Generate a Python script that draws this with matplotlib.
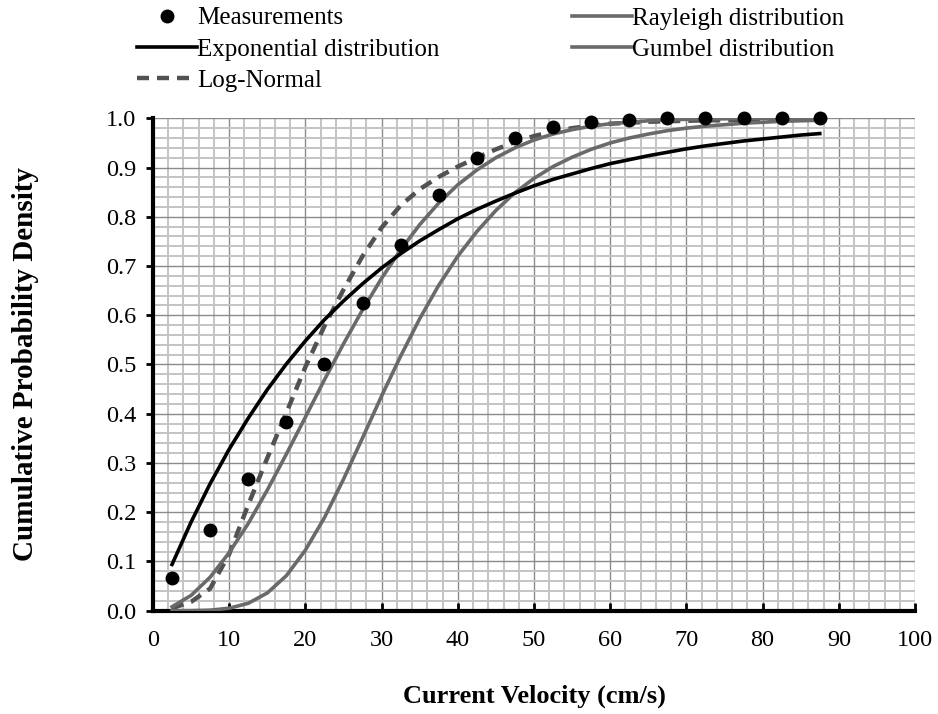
import matplotlib
matplotlib.use("Agg")
import matplotlib.pyplot as plt
from matplotlib.ticker import MultipleLocator

plt.rcParams['font.family'] = ['Liberation Serif', 'DejaVu Serif']

# Measured points
meas_x = [2.5, 7.5, 12.5, 17.5, 22.5, 27.5, 32.5, 37.5, 42.5, 47.5, 52.5,
          57.5, 62.5, 67.5, 72.5, 77.5, 82.5, 87.5]
meas_y = [0.067, 0.163, 0.267, 0.383, 0.502, 0.625, 0.742, 0.845, 0.920,
          0.960, 0.983, 0.993, 0.997, 1.000, 1.000, 1.000, 1.000, 1.000]

# Curves sampled every 2.5 cm/s
curve_x = [2.5, 5, 7.5, 10, 12.5, 15, 17.5, 20, 22.5, 25, 27.5, 30, 32.5, 35,
           37.5, 40, 42.5, 45, 47.5, 50, 52.5, 55, 57.5, 60, 62.5, 65, 67.5,
           70, 72.5, 75, 77.5, 80, 82.5, 85, 87.5]
expo_y = [0.094, 0.180, 0.258, 0.328, 0.391, 0.449, 0.501, 0.548, 0.591, 0.629,
          0.664, 0.696, 0.725, 0.751, 0.774, 0.796, 0.815, 0.832, 0.848, 0.863,
          0.876, 0.887, 0.898, 0.908, 0.916, 0.924, 0.931, 0.938, 0.944, 0.949,
          0.954, 0.958, 0.962, 0.966, 0.969]
rayl_y = [0.008, 0.031, 0.068, 0.118, 0.177, 0.245, 0.318, 0.393, 0.469, 0.542,
          0.611, 0.675, 0.733, 0.784, 0.828, 0.865, 0.895, 0.920, 0.940, 0.956,
          0.968, 0.977, 0.984, 0.989, 0.992, 0.995, 0.997, 0.998, 0.999, 0.999,
          1.000, 1.000, 1.000, 1.000, 1.000]
gumb_y = [0.000, 0.000, 0.001, 0.005, 0.015, 0.036, 0.071, 0.123, 0.189, 0.267,
          0.351, 0.436, 0.517, 0.593, 0.661, 0.720, 0.770, 0.813, 0.849, 0.878,
          0.902, 0.921, 0.937, 0.950, 0.960, 0.968, 0.975, 0.980, 0.984, 0.987,
          0.990, 0.992, 0.994, 0.995, 0.996]
logn_y = [0.005, 0.018, 0.045, 0.115, 0.215, 0.310, 0.402, 0.495, 0.578, 0.652,
          0.720, 0.778, 0.823, 0.856, 0.881, 0.902, 0.920, 0.937, 0.952, 0.964,
          0.973, 0.980, 0.985, 0.989, 0.991, 0.993, 0.994, 0.995, 0.996, 0.996,
          0.997, 0.997, 0.997, 0.997, 0.997]

x_ticks = [0, 10, 20, 30, 40, 50, 60, 70, 80, 90, 100]
y_ticks = [0.0, 0.1, 0.2, 0.3, 0.4, 0.5, 0.6, 0.7, 0.8, 0.9, 1.0]

fig = plt.figure(figsize=(9.38, 7.14), dpi=100)
ax = fig.add_axes([0.1631, 0.1447, 0.8124, 0.6896])

ax.set_xlim(0, 100)
ax.set_ylim(0, 1.0)
ax.set_xticks(x_ticks)
ax.set_xticklabels([str(v) for v in x_ticks])
ax.set_yticks(y_ticks)
ax.set_yticklabels([f'{v:.1f}' for v in y_ticks])
ax.xaxis.set_minor_locator(MultipleLocator(2))
ax.yaxis.set_minor_locator(MultipleLocator(0.02))
ax.grid(which='minor', color='#c4c4c4', linewidth=1.4, zorder=0)
ax.grid(which='major', color='#8a8a8a', linewidth=1.0, zorder=0)
ax.set_axisbelow(True)

ax.plot(meas_x, meas_y, 'o', color='black', markersize=9, zorder=5,
        label='Measurements', clip_on=False)
ax.plot(curve_x, expo_y, '-', color='black', linewidth=2.6, zorder=4,
        label='Exponential distribution')
ax.plot(curve_x, logn_y, '--', color='#525252', linewidth=3.2, zorder=3,
        dashes=(2.7, 1.8), label='Log-Normal')
ax.plot(curve_x, rayl_y, '-', color='#6a6a6a', linewidth=2.6, zorder=3,
        label='Rayleigh distribution')
ax.plot(curve_x, gumb_y, '-', color='#6a6a6a', linewidth=2.6, zorder=3,
        label='Gumbel distribution')

for s in ['top', 'right']:
    ax.spines[s].set_visible(False)
for s in ['left', 'bottom']:
    ax.spines[s].set_linewidth(3)
    ax.spines[s].set_color('black')

ax.tick_params(axis='x', which='major', direction='in', length=6, width=2,
               labelsize=17.5, pad=14)
ax.tick_params(axis='y', which='major', direction='out', length=5, width=2,
               labelsize=17.5, pad=7)
ax.tick_params(which='minor', length=0)

ax.set_xlabel('Current Velocity (cm/s)', fontsize=19, fontweight='bold', labelpad=24)
ax.set_ylabel('Cumulative Probability Density', fontsize=21, fontweight='bold', labelpad=48)

leg = fig.legend(*ax.get_legend_handles_labels(), loc='upper left',
                 bbox_to_anchor=(137 / 938, 1 - 7 / 714), ncol=2,
                 frameon=False, fontsize=18, handlelength=2.4,
                 handletextpad=0.0, columnspacing=5.3, labelspacing=0.35,
                 borderpad=0.0, borderaxespad=0.0)

fig.savefig('out.png', dpi=100)
